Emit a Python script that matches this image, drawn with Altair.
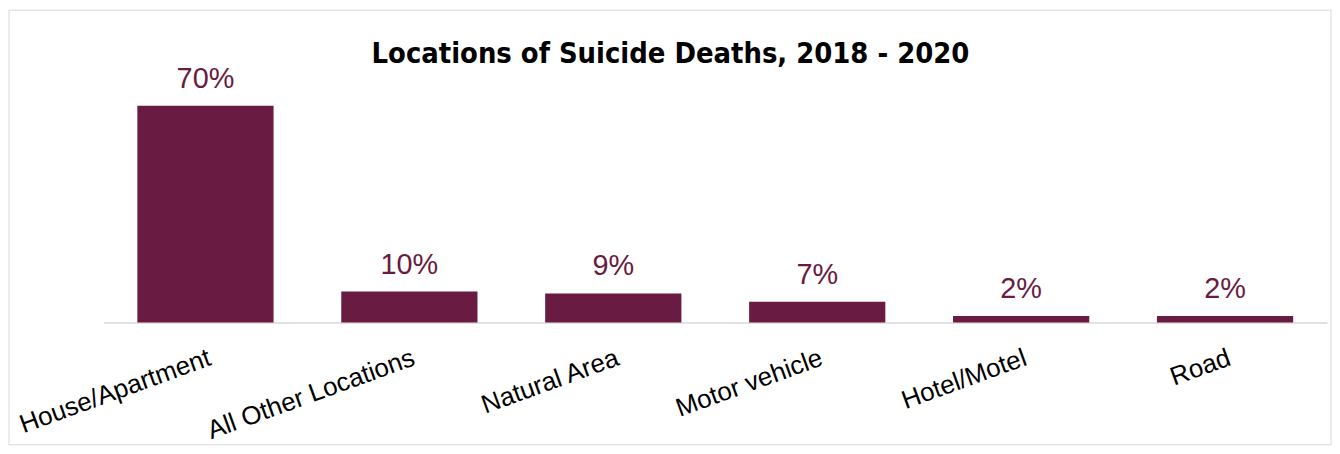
import altair as alt
import pandas as pd

categories = ["House/Apartment", "All Other Locations", "Natural Area", "Motor vehicle", "Hotel/Motel", "Road"]
shares = [0.70, 0.10, 0.094, 0.067, 0.021, 0.021]

BAR = "#6a1b41"
df = pd.DataFrame({"location": categories, "share": shares})

x_enc = alt.X("location:N", sort=None, title=None,
              scale=alt.Scale(paddingInner=0.332, paddingOuter=0.166),
              axis=alt.Axis(labelAngle=340, labelAlign="right", labelBaseline="top",
                            labelPadding=22, labelFontSize=26, labelFont="Liberation Sans",
                            labelColor="#000000", ticks=False, domainColor="#d9d9d9",
                            domainWidth=1.5, labelLimit=400))
y_enc = alt.Y("share:Q", title=None, scale=alt.Scale(domain=[0, 0.8]), axis=None)

bars = alt.Chart(df).mark_bar(color=BAR).encode(x=x_enc, y=y_enc)

labels = alt.Chart(df).mark_text(color=BAR, fontSize=29, font="Liberation Sans",
                                 baseline="alphabetic", dy=-18).encode(
    x=alt.X("location:N", sort=None),
    y="share:Q",
    text=alt.Text("share:Q", format=".0%"),
)

frame = alt.Chart(pd.DataFrame({"f": [0]})).mark_rect(
    fill="#ffffff", fillOpacity=0, stroke="#d9d9d9", strokeWidth=1
).encode(x=alt.value(-95), x2=alt.value(1234), y=alt.value(-65), y2=alt.value(372))

chart = alt.layer(frame, bars, labels).properties(
    width=1230, height=249, padding=0,
    title=alt.TitleParams("Locations of Suicide Deaths, 2018 - 2020",
                          font="'DejaVu Sans Condensed', 'Liberation Sans Narrow', 'Liberation Sans', sans-serif",
                          fontSize=29, fontWeight="bold",
                          color="#000000", anchor="middle", dx=-45, offset=-60),
).configure_view(strokeWidth=0, stroke="transparent")

chart.save("out.html", embed_options={"renderer": "svg", "actions": False})
